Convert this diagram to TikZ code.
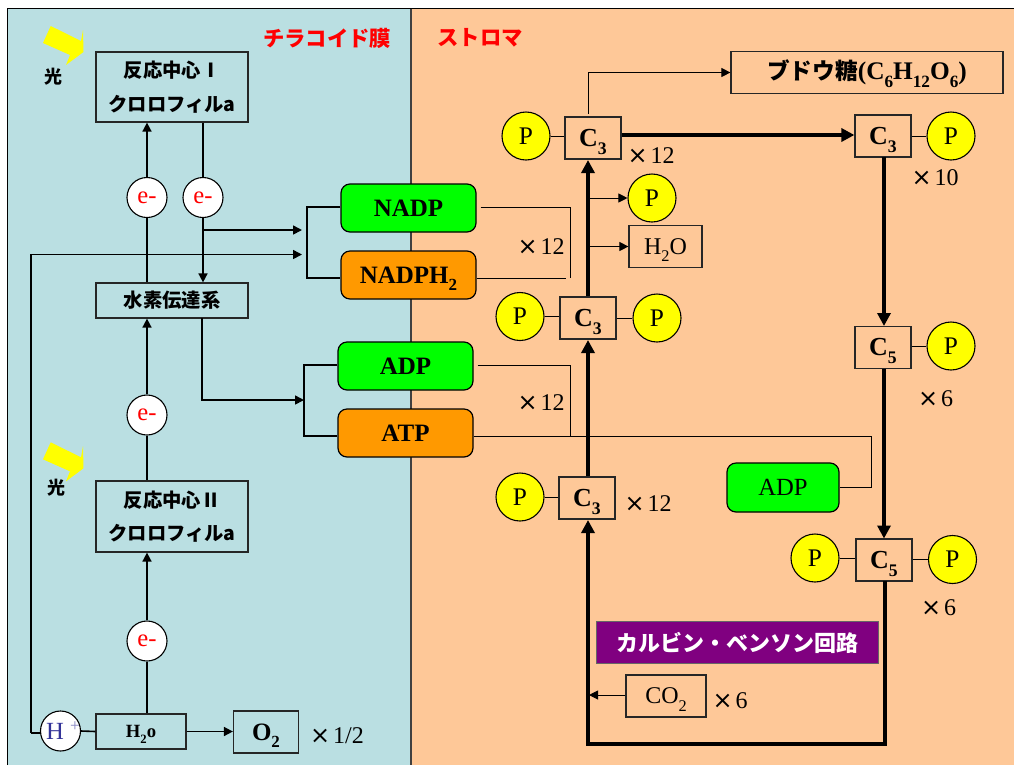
\documentclass[tikz,border=0pt]{standalone}
\usepackage{fontspec}
\setmainfont{Liberation Serif}
\newfontfamily\jp{Noto Sans CJK JP}
\usetikzlibrary{arrows.meta}
\definecolor{panelblue}{RGB}{186,223,226}
\definecolor{panelorange}{RGB}{254,200,152}
\definecolor{nadpgreen}{RGB}{0,255,0}
\definecolor{atporange}{RGB}{255,153,0}
\definecolor{calvin}{RGB}{128,0,128}
\definecolor{hblue}{RGB}{51,51,153}
\definecolor{pureyellow}{RGB}{255,255,0}
\def\px{0.75pt}
\newcommand\lowered[1]{\raisebox{-.3em}[0pt][0pt]{\scalebox{.68}{#1}}}
\newcommand\tm{{\fontspec{DejaVu Sans}×}\kern.12em}
\tikzset{
  wire/.style={draw=black,line width=1.6*\px},
  thin wire/.style={draw=black,line width=0.95*\px},
  heavy/.style={draw=black,line width=4*\px},
  tip/.style={-{Triangle[length=9*\px,width=9*\px]}},
  bigtip/.style={-{Triangle[length=13*\px,width=13*\px]}},
  plainbox/.style={draw=black!85,line width=1.2*\px,inner sep=0pt,align=center},
  roundbox/.style={draw=black,line width=1.2*\px,rounded corners=9*\px,inner sep=0pt,
    minimum width=135*\px,minimum height=48*\px},
  phos/.style={circle,draw=black,line width=1.1*\px,fill=pureyellow,minimum size=48*\px,inner sep=0pt,
    font=\fontsize{19pt}{20pt}\selectfont},
  elec/.style={circle,draw=black,line width=1.1*\px,fill=white,minimum size=40*\px,inner sep=0pt,
    text=red,font=\fontsize{18.5pt}{20pt}\selectfont},
  cbox/.style={plainbox,minimum width=56*\px,minimum height=42*\px,
    font=\fontsize{19.5pt}{20pt}\selectfont\bfseries},
  big/.style={font=\fontsize{18.75pt}{20pt}\selectfont\bfseries},
  count/.style={inner sep=0pt,font=\fontsize{18pt}{20pt}\selectfont},
  jpbold/.style={inner sep=0pt,font=\jp\bfseries\fontsize{15pt}{18pt}\selectfont},
  sun/.style={fill=pureyellow,draw=none},
}
\begin{document}
\begin{tikzpicture}[x=0.75pt,y=-0.75pt]
\useasboundingbox (0,0) rectangle (1014,765);
\clip (0,0) rectangle (1014,765);
% panels
\fill[panelblue] (8,9) rectangle (411,765);
\fill[panelorange] (411,9) rectangle (1014,765);
\draw[black,line width=1.2*\px] (7.5,765) -- (7.5,8.5) -- (1014,8.5);
\draw[black!75,line width=1.2*\px] (411,8.5) -- (411,765);
% light arrows
\fill[sun] (50.7,26) -- (81,41) -- (83,30) -- (83.5,52) -- (66,65) -- (70,55) -- (43,43) -- cycle;
\fill[sun] (50.7,442.3) -- (81,457.3) -- (83,446.3) -- (83.5,468.3) -- (66,481.3) -- (70,471.3) -- (43,459.3) -- cycle;
\node[inner sep=0pt,font=\jp\bfseries\fontsize{13.5pt}{15pt}\selectfont] (hikari1) at (53,77) {光};
\node[inner sep=0pt,font=\jp\bfseries\fontsize{13.5pt}{15pt}\selectfont] (hikari2) at (56.5,488) {光};
% titles
\node[jpbold,text=red,font=\jp\bfseries\fontsize{16pt}{18pt}\selectfont] (thy) at (327,38) {チラコイド膜};
\node[jpbold,text=red,font=\jp\bfseries\fontsize{16pt}{18pt}\selectfont] (stroma) at (480,38) {ストロマ};
% left column boxes
\node[plainbox,minimum width=152*\px,minimum height=70*\px,font=\jp\bfseries\fontsize{14.5pt}{18pt}\selectfont] (rc1) at (172,87) {反応中心Ⅰ\\[7pt]クロロフィルa};
\node[plainbox,minimum width=152*\px,minimum height=35*\px,font=\jp\bfseries\fontsize{14.5pt}{18pt}\selectfont] (htrans) at (172,300.5) {水素伝達系};
\node[plainbox,minimum width=152*\px,minimum height=71*\px,font=\jp\bfseries\fontsize{14.5pt}{18pt}\selectfont] (rc2) at (172,516.5) {反応中心Ⅱ\\[7pt]クロロフィルa};
\node[plainbox,minimum width=90*\px,minimum height=35*\px,font=\fontsize{14pt}{16pt}\selectfont\bfseries] (water) at (141,731.5) {H\lowered{2}o};
\node[plainbox,minimum width=65*\px,minimum height=42*\px,big] (oxy) at (266,732) {O\lowered{2}};
\node[count] (half) at (337,736) {\tm 1/2};
\node[elec] (e1) at (147,197.5) {e-};
\node[elec] (e2) at (203,197.5) {e-};
\node[elec] (e3) at (147,415) {e-};
\node[elec] (e4) at (147,641) {e-};
\node[circle,draw=black,line width=1.1*\px,fill=white,minimum size=40*\px,inner sep=0pt] (hplus) at (60.5,731) {};
\node[inner sep=0pt,text=hblue,font=\fontsize{18.5pt}{20pt}\selectfont] (hplustxt) at (55,731) {H};
\node[inner sep=0pt,text=hblue!60,font=\fontsize{13pt}{14pt}\selectfont] (hplussign) at (75,727) {+};
% carriers
\node[roundbox,fill=nadpgreen,big] (nadp) at (408.5,208) {NADP};
\node[roundbox,fill=atporange,big] (nadph) at (408.5,275) {NADPH\lowered{2}};
\node[roundbox,fill=nadpgreen,big] (adp) at (405.5,366) {ADP};
\node[roundbox,fill=atporange,big] (atp) at (405.5,433) {ATP};
\node[roundbox,fill=nadpgreen,minimum width=112*\px,minimum height=49*\px,font=\fontsize{18.5pt}{20pt}\selectfont] (adp2) at (783,487.5) {ADP};
% right part
\node[plainbox,minimum width=272*\px,minimum height=42*\px,font=\jp\bfseries\fontsize{17pt}{20pt}\selectfont] (gluc) at (867,72.5) {ブドウ糖{\rmfamily\bfseries\fontsize{19pt}{20pt}\selectfont(C\lowered{6}H\lowered{12}O\lowered{6})}};
\node[cbox] (c3a) at (593,138) {C\lowered{3}};
\node[phos] (pa) at (526,136) {P};
\node[cbox] (c3b) at (883,136) {C\lowered{3}};
\node[phos] (pb) at (951,136) {P};
\node[phos] (pc) at (652,198) {P};
\node[plainbox,minimum width=73*\px,minimum height=42*\px,font=\fontsize{18pt}{20pt}\selectfont] (h2o) at (665.5,246.5) {H\lowered{2}O};
\node[cbox] (c3c) at (588,318) {C\lowered{3}};
\node[phos] (pd) at (520,316.5) {P};
\node[phos] (pe) at (657,318) {P};
\node[cbox] (c3d) at (587,498) {C\lowered{3}};
\node[phos] (pf) at (520,497) {P};
\node[cbox] (c5a) at (883,347.5) {C\lowered{5}};
\node[phos] (pg) at (951,346) {P};
\node[cbox] (c5b) at (884,560) {C\lowered{5}};
\node[phos] (ph) at (815,558) {P};
\node[phos] (pi) at (952.5,559.5) {P};
\node[draw=black!60,line width=1*\px,fill=calvin,text=white,inner sep=0pt,minimum width=282*\px,minimum height=42*\px,font=\jp\bfseries\fontsize{16.5pt}{20pt}\selectfont] (cycle) at (737,642.5) {カルビン・ベンソン回路};
\node[plainbox,minimum width=80*\px,minimum height=42*\px,font=\fontsize{18pt}{20pt}\selectfont] (co2) at (666,696) {CO\lowered{2}};
% multipliers
\node[count] (m1) at (651,156) {\tm 12};
\node[count] (m2) at (935,178) {\tm 10};
\node[count] (m3) at (541,246.5) {\tm 12};
\node[count] (m4) at (541,402.5) {\tm 12};
\node[count] (m5) at (648,504) {\tm 12};
\node[count] (m6) at (935.5,399) {\tm 6};
\node[count] (m7) at (938.5,607.5) {\tm 6};
\node[count] (m8) at (730,700.5) {\tm 6};
% free ends
\coordinate (nb) at (307,207);
\coordinate (nbot) at (307,278);
\coordinate (ab) at (304,365);
\coordinate (abot) at (304,436);
\coordinate (ntop) at (302,230);
\coordinate (nmid) at (302,254.5);
\coordinate (hleft) at (31,254.5);
\coordinate (hbot) at (31,733);
\coordinate (atarget) at (304,400);
\coordinate (rr) at (570,207);
\coordinate (rrb) at (570,278);
\coordinate (rsb) at (570,436);
\coordinate (fr) at (871,436);
\coordinate (bl) at (588,744);
\coordinate (br) at (885,744);
% left connectors
\draw[wire,tip] (e1.north) -- (e1.north |- rc1.south);
\draw[wire] (e1.south) -- (e1.south |- htrans.north);
\draw[wire] (e2.north |- rc1.south) -- (e2.north);
\draw[wire,tip] (e2.south) -- (e2.south |- htrans.north);
\draw[wire,tip] (e2.south |- ntop) -- (ntop);
\draw[wire,tip] (hbot) -- (hleft) -- (nmid);
\draw[wire] (hplus.west |- hbot) -- (hbot);
\draw[wire] (nadp.west |- nb) -- (nb) -- (nbot) -- (nadph.west |- nbot);
\draw[wire] (adp.west |- ab) -- (ab) -- (abot) -- (atp.west |- abot);
\draw[wire,tip] (e3.north) -- (e3.north |- htrans.south);
\draw[wire,tip] (202,318) -- (202,400) -- (atarget);
\draw[wire] (e3.south) -- (e3.south |- rc2.north);
\draw[wire,tip] (e4.north) -- (e4.north |- rc2.south);
\draw[wire] (e4.south) -- (e4.south |- water.north);
\draw[wire] (hplus.east) -- (water.west);
\draw[wire,tip] (water.east) -- (water.east -| oxy.west);
% energy carrier connectors
\draw[thin wire] (rr -| nadp.east) ++(4,0) -- (rr) -- (rrb);
\draw[thin wire] (nadph.east |- rrb) -- (566,278);
\draw[thin wire] (adp.east |- ab) ++(4,0) -- (570,365) -- (rsb);
\draw[thin wire] (atp.east |- rsb) -- (fr) -- (fr |- adp2.east) -- (adp2.east);
% Calvin cycle
\coordinate (c3aout) at (c3a.east |- 0,135);
\coordinate (c3bin) at (c3b.west |- 0,135);
\draw[heavy,bigtip] (c3aout) -- (c3bin);
\draw[heavy,bigtip] (c3c.north -| 588,0) -- (588,160);
\draw[heavy,bigtip] (c3d.north -| 588,0) -- (588,340);
\draw[heavy,bigtip] (884,157) -- (884,326);
\draw[heavy,bigtip] (884,368.5) -- (884,538.5);
\draw[heavy,bigtip,line cap=butt] (885,581) -- (br) -- (bl) -- (588,520);
\draw[thin wire,tip] (588,114) -- (588,72.5) -- (gluc.west);
\draw[thin wire,tip] (588,198) -- (pc.west);
\draw[thin wire,tip] (588,246.5) -- (h2o.west);
\draw[thin wire,tip] (co2.west |- 0,695) -- (589,695);
\draw[thin wire] (pa.east) -- (pa.east -| c3a.west);
\draw[thin wire] (c3b.east |- pb.west) -- (pb.west);
\draw[thin wire] (pd.east) -- (pd.east -| c3c.west);
\draw[thin wire] (c3c.east |- pe.west) -- (pe.west);
\draw[thin wire] (pf.east) -- (pf.east -| c3d.west);
\draw[thin wire] (c5a.east |- pg.west) -- (pg.west);
\draw[thin wire] (ph.east) -- (ph.east -| c5b.west);
\draw[thin wire] (c5b.east |- pi.west) -- (pi.west);
\end{tikzpicture}
\end{document}
